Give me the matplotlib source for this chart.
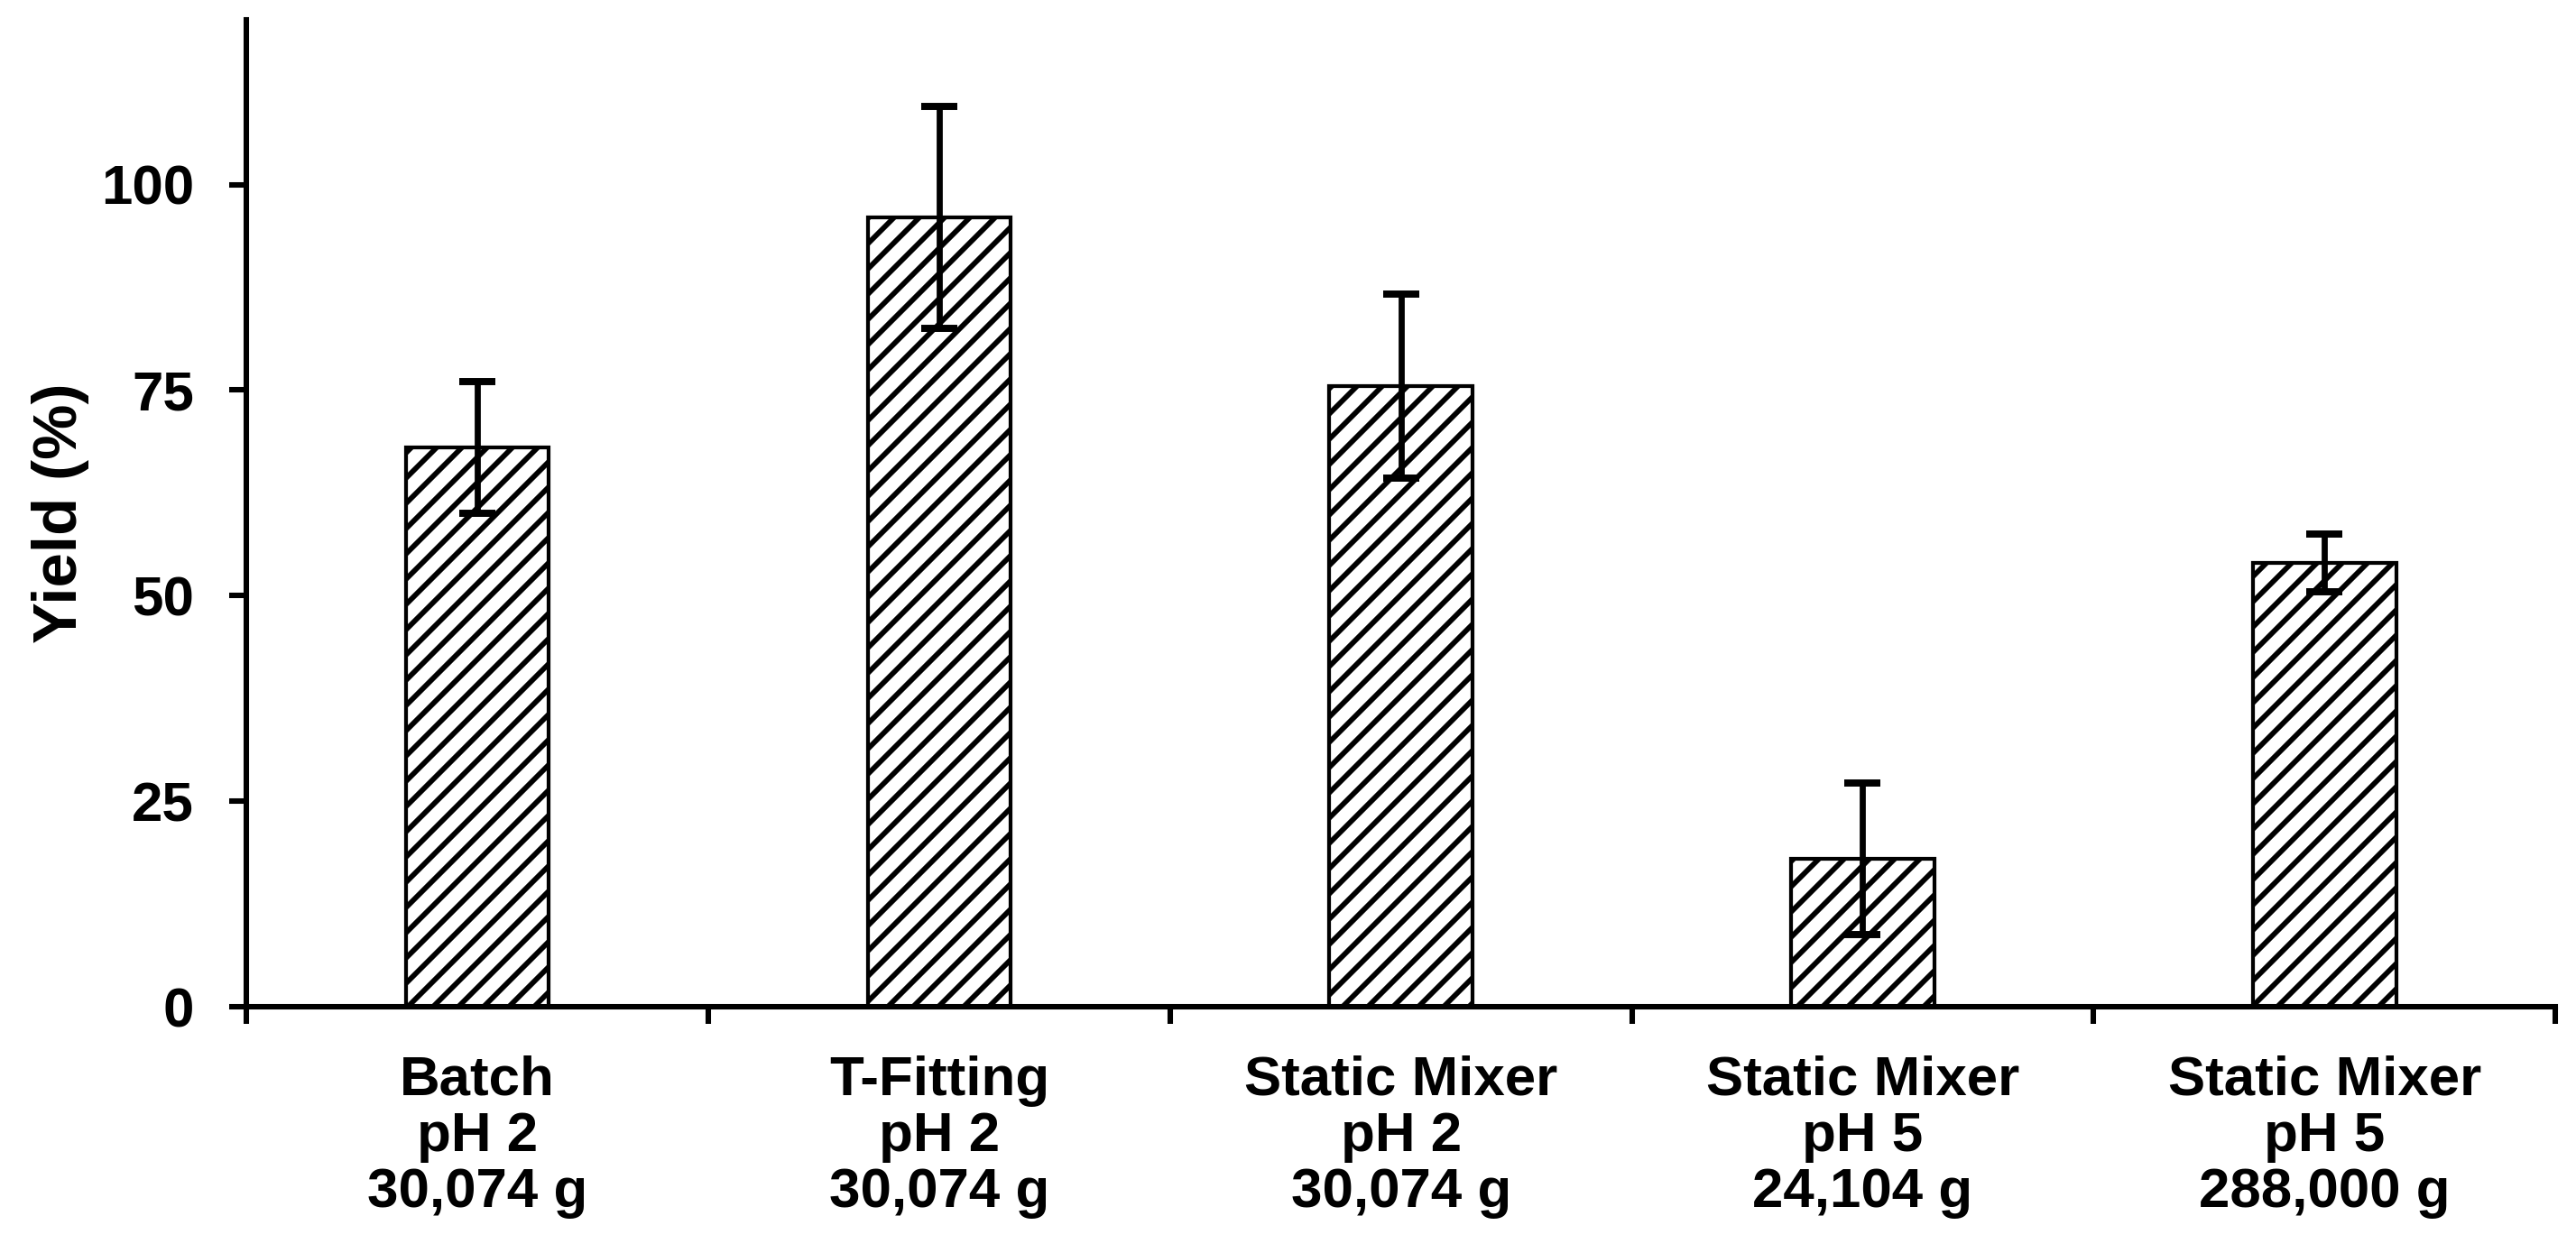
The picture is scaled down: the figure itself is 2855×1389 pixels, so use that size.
import matplotlib
matplotlib.use("Agg")
import matplotlib.pyplot as plt
import numpy as np

categories = ["Batch\npH 2\n30,074 g",
              "T-Fitting\npH 2\n30,074 g",
              "Static Mixer\npH 2\n30,074 g",
              "Static Mixer\npH 5\n24,104 g",
              "Static Mixer\npH 5\n288,000 g"]
yield_pct = [68.0, 96.0, 75.5, 18.0, 54.0]
yield_err = [8.0, 13.5, 11.2, 9.2, 3.5]
y_ticks = [0, 25, 50, 75, 100]

plt.rcParams["font.family"] = ["Liberation Sans", "DejaVu Sans"]
plt.rcParams["font.weight"] = "bold"
plt.rcParams["hatch.linewidth"] = 2.5

DPI = 168
fig = plt.figure(figsize=(2855 / DPI, 1389 / DPI), dpi=DPI)
ax = fig.add_axes([0.0957, 0.1965, 0.8963, 0.7875])

x = np.arange(len(categories))
ax.bar(x, yield_pct, width=0.31, color="white", edgecolor="black",
       linewidth=1.8, hatch="//", zorder=2)
ax.errorbar(x, yield_pct, yerr=yield_err, fmt="none", ecolor="black",
            elinewidth=2.9, capsize=8.5, capthick=3.4, zorder=3)

ax.set_xlim(-0.5, len(categories) - 0.5)
ax.set_ylim(0, 120)

ax.set_yticks(y_ticks)
ax.set_yticklabels([str(t) for t in y_ticks], fontsize=26.5, fontweight="bold")
ax.tick_params(axis="y", direction="out", length=8, width=2.6, pad=17)

ax.set_xticks(x)
labels = ax.set_xticklabels(categories, fontsize=26.5, fontweight="bold")
for lab in labels:
    lab.set_linespacing(1.12)
ax.tick_params(axis="x", which="major", length=0, pad=23)
ax.set_xticks(np.arange(-0.5, len(categories)), minor=True)
ax.tick_params(axis="x", which="minor", direction="out", length=8, width=2.6)

for side in ["top", "right"]:
    ax.spines[side].set_visible(False)
for side in ["left", "bottom"]:
    ax.spines[side].set_linewidth(2.6)

ax.set_ylabel("Yield (%)", fontsize=29.5, fontweight="bold")
ax.yaxis.set_label_coords(-0.068, 0.5)

fig.savefig("out.png", dpi=DPI)
